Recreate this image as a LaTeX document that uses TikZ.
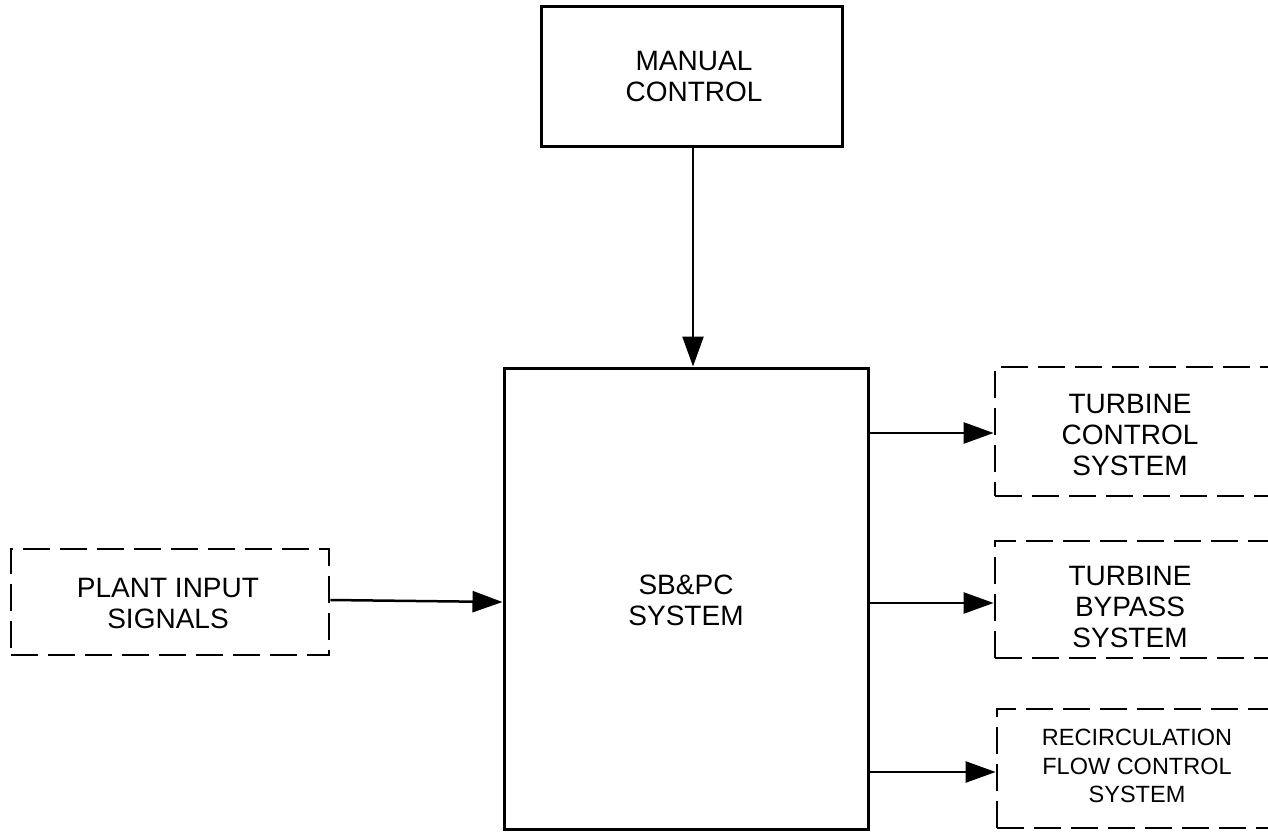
\documentclass[tikz,border=0pt]{standalone}
\usepackage{fontspec}
\setmainfont{Liberation Sans}
\usetikzlibrary{arrows.meta}
\begin{document}
\begin{tikzpicture}[x=1pt,y=-1pt,
  sbox/.style={draw=black, line width=3pt, inner sep=0pt},
  dbox/.style={draw=black, line width=2.8pt, dash pattern=on 27pt off 10pt, inner sep=0pt},
  txt/.style={align=center, font=\fontsize{28}{31}\selectfont, inner sep=0pt},
  stxt/.style={align=center, font=\fontsize{23.5}{28.5}\selectfont, inner sep=0pt},
  conn/.style={draw=black, line width=2.5pt, -{Triangle[length=30pt,width=21pt]}}
]
\useasboundingbox (0,0) rectangle (1268,832);
\clip (0,0) rectangle (1268,832);
\node[sbox, minimum width=301pt, minimum height=139pt] (manual) at (691.5,76.5) {};
\node[txt] (manualt) at (694,77) {MANUAL\\CONTROL};
\node[sbox, minimum width=364pt, minimum height=461pt] (sbpc) at (686,598.5) {};
\node[txt] (sbpct) at (686,600) {SB\&PC\\SYSTEM};
\node[dbox, minimum width=318pt, minimum height=106pt] (plant) at (170,602) {};
\node[txt] (plantt) at (168,603) {PLANT INPUT\\SIGNALS};
\node[dbox, minimum width=285pt, minimum height=129pt] (tcs) at (1137.5,431.5) {};
\node[txt] (tcst) at (1130,435) {TURBINE\\CONTROL\\SYSTEM};
\node[dbox, minimum width=285pt, minimum height=117pt] (tbs) at (1137.5,599.5) {};
\node[txt] (tbst) at (1130,607) {TURBINE\\BYPASS\\SYSTEM};
\node[dbox, minimum width=283pt, minimum height=119pt] (rfc) at (1138.5,768.5) {};
\node[stxt] (rfct) at (1137,766) {RECIRCULATION\\FLOW CONTROL\\SYSTEM};
\coordinate (mx) at (693,0);
\draw[conn] (manual.south -| mx) -- (sbpc.north -| mx);
\draw[conn] (plant.east) ++(0,-2) -- (sbpc.west |- plant.east);
\coordinate (y1) at (0,433);
\coordinate (y2) at (0,603);
\coordinate (y3) at (0,772);
\draw[conn] (sbpc.east |- y1) -- (tcs.west |- y1);
\draw[conn] (sbpc.east |- y2) -- (tbs.west |- y2);
\draw[conn] (sbpc.east |- y3) -- (rfc.west |- y3);
\end{tikzpicture}
\end{document}
